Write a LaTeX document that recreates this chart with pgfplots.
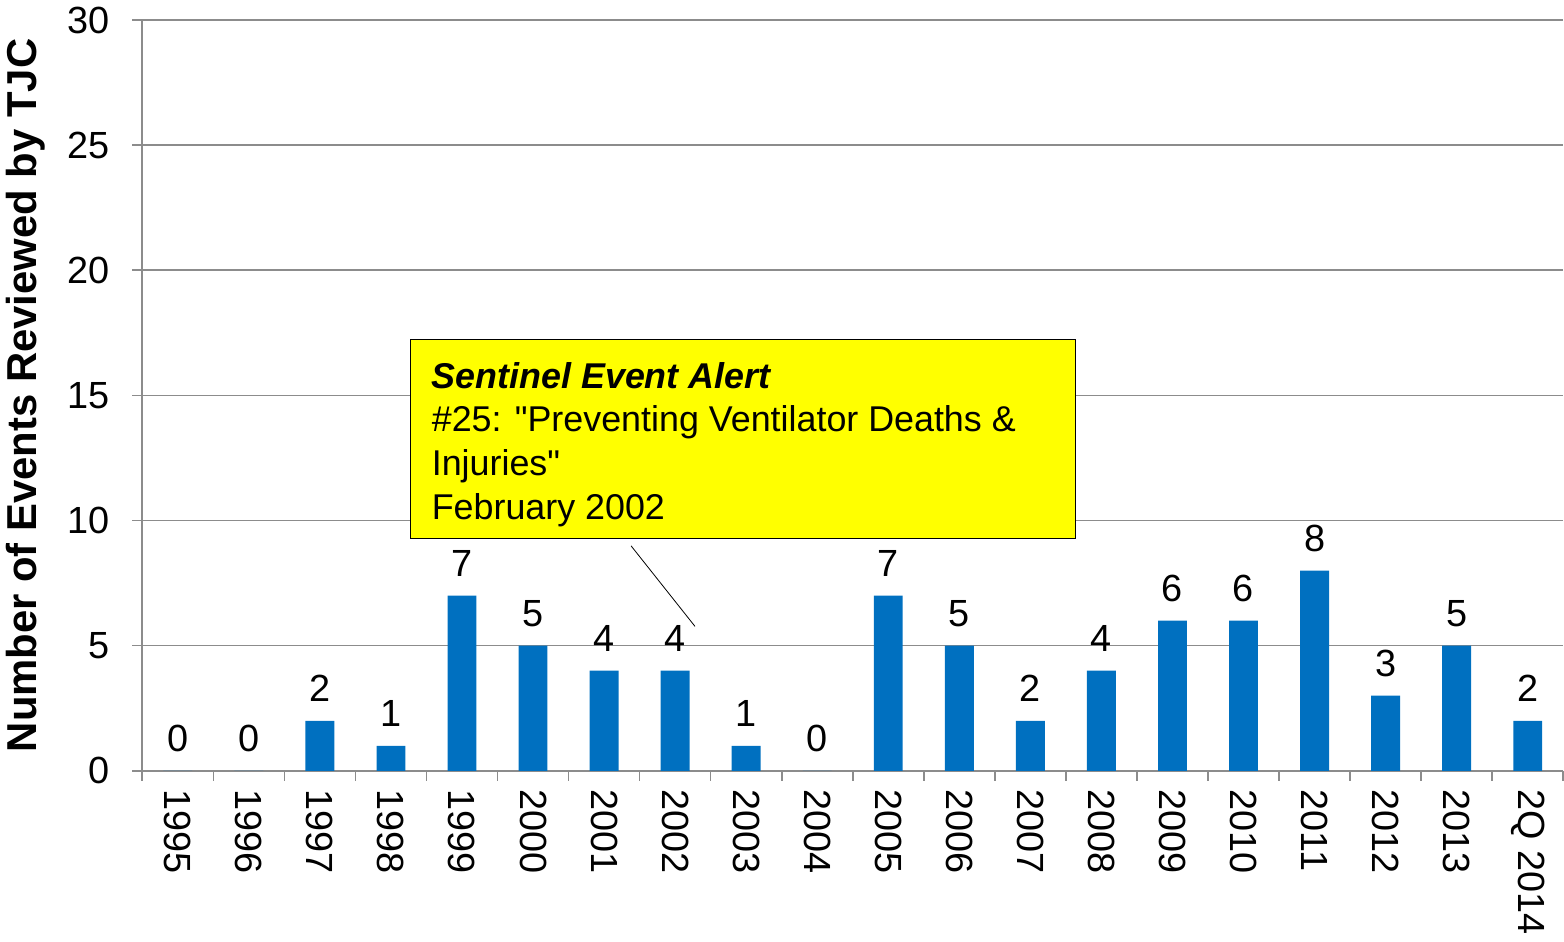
\documentclass[border=0pt]{standalone}
\usepackage{fontspec}
\setmainfont{Liberation Sans}
\newfontfamily\plainfont{Liberation Sans}[Ligatures=TeXOff]
\usepackage{pgfplots}
\pgfplotsset{compat=1.18}
\definecolor{barblue}{HTML}{0070C0}
\definecolor{gridgray}{HTML}{8C8C8C}
\definecolor{alertyellow}{HTML}{FFFF00}

\begin{document}
\begin{tikzpicture}
\begin{axis}[
  width=713.5pt, height=377pt,
  scale only axis,
  ybar, bar width=14.5pt,
  xmin=-0.5, xmax=19.5,
  ymin=0, ymax=30,
  ytick={0,5,...,30},
  xtick={0,...,19},
  xticklabels={1995,1996,1997,1998,1999,2000,2001,2002,2003,2004,2005,2006,2007,2008,2009,2010,2011,2012,2013,2Q 2014},
  minor xtick={-0.5,0.5,...,19.5},
  major x tick style={draw=none},
  minor x tick style={draw=gridgray, thick},
  y tick style={draw=gridgray, thick},
  tick align=outside,
  major tick length=5pt, minor tick length=5pt,
  x tick label style={rotate=-90, anchor=west, font=\fontsize{19}{22}\selectfont, xshift=1pt},
  y tick label style={font=\fontsize{19}{22}\selectfont, xshift=-8pt},
  /pgf/number format/assume math mode=true,
  axis x line*=bottom, axis y line*=left,
  axis line style={draw=gridgray, thick, -},
  ymajorgrids, grid style={draw=gridgray, thick},
  ylabel={\bfseries Number of Events Reviewed by TJC},
  ylabel style={font=\fontsize{21}{24}\selectfont, yshift=4pt},
  nodes near coords,
  every node near coord/.append style={font=\fontsize{19}{22}\selectfont, black, yshift=6pt},
  clip=false,
]
\addplot[fill=barblue, draw=none] coordinates {
  (0,0) (1,0) (2,2) (3,1) (4,7) (5,5) (6,4) (7,4) (8,1) (9,0)
  (10,7) (11,5) (12,2) (13,4) (14,6) (15,6) (16,8) (17,3) (18,5) (19,2)
};
\draw[black] (axis cs:6.38,8.99) -- (axis cs:7.28,5.77);
\draw[black, fill=alertyellow] (axis cs:3.27,9.27) rectangle (axis cs:12.63,17.23);
\node[anchor=north west, align=left, font=\plainfont\fontsize{18}{22}\selectfont, inner sep=0pt]
  at (axis cs:3.57,16.35) {\textbf{\textit{Sentinel Event Alert}}\\
  \#25: "Preventing Ventilator Deaths \&\\
  Injuries"\\
  February 2002};
\end{axis}
\end{tikzpicture}
\end{document}
